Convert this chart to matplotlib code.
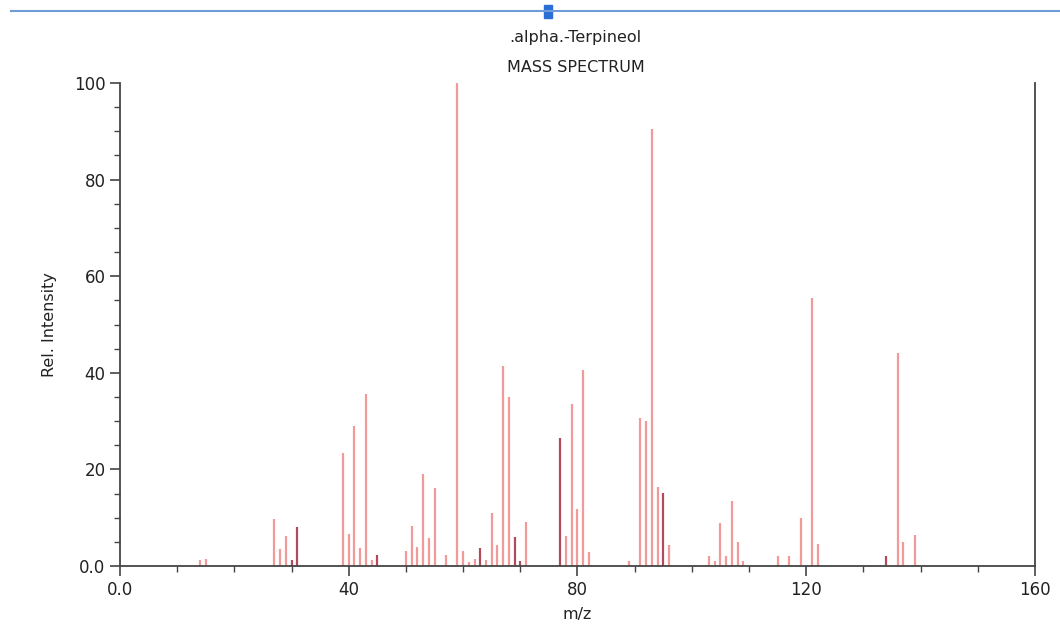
import matplotlib
matplotlib.use("Agg")
import matplotlib.pyplot as plt
from matplotlib.lines import Line2D
from matplotlib.patches import Rectangle
from matplotlib.ticker import MultipleLocator, FixedLocator

# alpha-terpineol EI mass spectrum
mz = [14, 15, 27, 28, 29, 30, 31,
      39, 40, 41, 42, 43, 44, 45,
      50, 51, 52, 53, 54, 55, 57, 59, 60, 61, 62, 63, 64, 65, 66, 67, 68, 69, 70, 71,
      77, 78, 79, 80, 81, 82, 89, 91, 92, 93, 94, 95, 96,
      103, 104, 105, 106, 107, 108, 109, 115, 117, 119, 121, 122,
      134, 136, 137, 139]
intensity = [1.2, 1.5, 9.7, 3.5, 6.3, 1.2, 8.1,
             23.3, 6.6, 29.0, 3.7, 35.7, 1.2, 2.3,
             3.0, 8.3, 3.9, 19.0, 5.7, 16.2, 2.3, 100.0, 3.2, 0.8, 1.4, 3.8, 1.2, 11.0, 4.4, 41.5, 34.9, 5.9, 1.0, 9.1,
             26.4, 6.2, 33.5, 11.7, 40.6, 2.9, 1.0, 30.6, 30.0, 90.4, 16.4, 15.2, 4.3,
             2.0, 1.0, 9.0, 2.0, 13.4, 5.0, 1.0, 2.0, 2.0, 10.0, 55.5, 4.6,
             2.0, 44.0, 5.0, 6.5]
# peaks drawn in the darker red
dark_mz = [30, 31, 45, 63, 69, 70, 77, 95, 134]

x_ticks = [0, 40, 80, 120, 160]
x_tick_labels = ["0.0", "40", "80", "120", "160"]
y_ticks = [0, 20, 40, 60, 80, 100]
y_tick_labels = ["0.0", "20", "40", "60", "80", "100"]

light_color = "#f29a9a"
dark_color = "#b04a5c"
axis_color = "#444444"

fig = plt.figure(figsize=(10.6, 6.29), dpi=100)
ax = fig.add_axes([0.1132, 0.1002, 0.8632, 0.7678])

colors = [dark_color if m in dark_mz else light_color for m in mz]
ax.vlines(mz, 0, intensity, colors=colors, linewidth=1.6)

ax.set_xlim(0, 160)
ax.set_ylim(0, 100)

ax.xaxis.set_major_locator(FixedLocator(x_ticks))
ax.xaxis.set_minor_locator(MultipleLocator(10))
ax.yaxis.set_major_locator(FixedLocator(y_ticks))
ax.yaxis.set_minor_locator(MultipleLocator(5))
ax.set_xticklabels(x_tick_labels)
ax.set_yticklabels(y_tick_labels)

ax.tick_params(which="major", direction="out", length=7, width=1.2,
               color=axis_color, labelsize=12, labelcolor="#222222")
ax.tick_params(which="minor", direction="out", length=4, width=1.0,
               color=axis_color)

ax.spines["top"].set_visible(False)
for side in ["left", "bottom", "right"]:
    ax.spines[side].set_color(axis_color)
    ax.spines[side].set_linewidth(1.3)

ax.set_xlabel("m/z", fontsize=11.5, color="#222222", labelpad=6)
ax.set_ylabel("Rel. Intensity", fontsize=11.5, color="#222222", labelpad=12)

fig.text(0.543, 0.94, ".alpha.-Terpineol", ha="center", va="center",
         fontsize=11.5, color="#222222")
fig.text(0.543, 0.892, "MASS SPECTRUM", ha="center", va="center",
         fontsize=11.5, color="#222222")

# thin blue bar left over at the top of the screenshot
fig.add_artist(Line2D([0.01, 1.0], [0.982, 0.982], transform=fig.transFigure,
                      color="#6f9bd8", linewidth=1.5))
fig.add_artist(Rectangle((0.513, 0.972), 0.008, 0.02, transform=fig.transFigure,
                         color="#2b6fd6"))

fig.savefig("out.png", dpi=100)
